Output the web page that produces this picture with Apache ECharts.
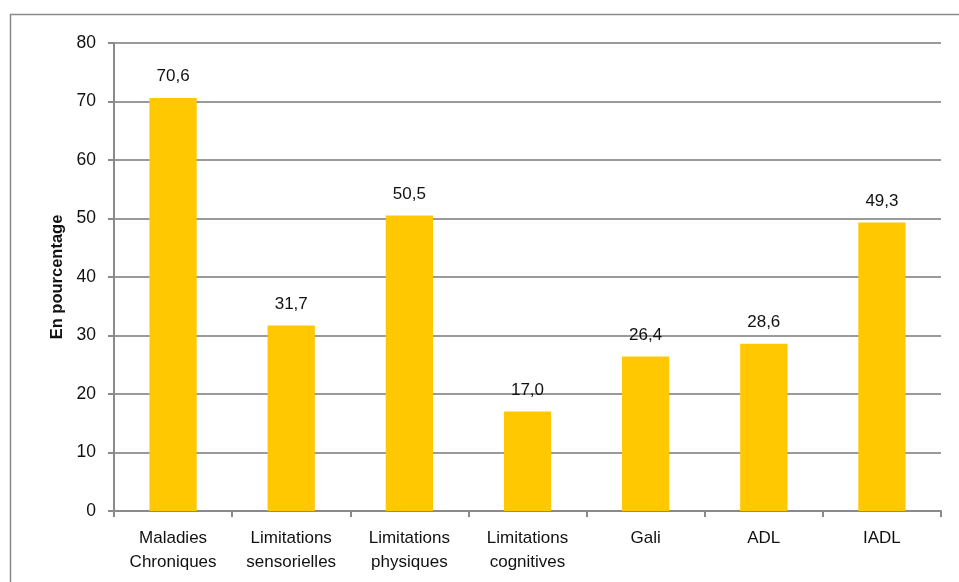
<!DOCTYPE html>
<html>
<head>
<meta charset="utf-8">
<script src="https://cdn.jsdelivr.net/npm/echarts@6/dist/echarts.min.js"></script>
<style>
  html, body { margin: 0; padding: 0; background: #fff; }
  #chart { width: 959px; height: 582px; }
</style>
</head>
<body>
<div id="chart"></div>
<script>
// Indicateurs de santé, en pourcentage
const categories = ['Maladies\nChroniques', 'Limitations\nsensorielles', 'Limitations\nphysiques', 'Limitations\ncognitives', 'Gali', 'ADL', 'IADL'];
const values = [70.6, 31.7, 50.5, 17.0, 26.4, 28.6, 49.3];
const yTicks = { min: 0, max: 80, interval: 10 };

const font = '"Liberation Sans", Arial, sans-serif';
const chart = echarts.init(document.getElementById('chart'), null, { renderer: 'canvas' });

chart.setOption({
  animation: false,
  backgroundColor: '#ffffff',
  graphic: [{
    type: 'rect',
    shape: { x: 10.5, y: 14.5, width: 960, height: 600 },
    style: { fill: 'none', stroke: '#8a8a8a', lineWidth: 1.5 },
    silent: true
  }],
  grid: { left: 114, right: 18, top: 43, bottom: 71 },
  xAxis: {
    type: 'category',
    data: categories,
    axisLine: { lineStyle: { color: '#8a8a8a', width: 2 } },
    axisTick: { show: true, length: 6, lineStyle: { color: '#8a8a8a', width: 2 } },
    axisLabel: { interval: 0, color: '#111', fontFamily: font, fontSize: 17, lineHeight: 24, margin: 15 }
  },
  yAxis: {
    type: 'value',
    min: yTicks.min, max: yTicks.max, interval: yTicks.interval,
    name: 'En pourcentage',
    nameLocation: 'middle',
    nameGap: 46,
    nameTextStyle: { color: '#111', fontFamily: font, fontSize: 16.5, fontWeight: 'bold' },
    axisLine: { show: true, lineStyle: { color: '#8a8a8a', width: 2 } },
    axisTick: { show: true, length: 6, inside: false, lineStyle: { color: '#8a8a8a', width: 2 } },
    axisLabel: { color: '#111', fontFamily: font, fontSize: 17.5, margin: 18 },
    splitLine: { lineStyle: { color: '#9a9a9a', width: 2 } }
  },
  series: [{
    type: 'bar',
    data: values,
    barWidth: '40%',
    itemStyle: { color: '#FFC800' },
    label: {
      show: true,
      position: 'top',
      distance: 13,
      color: '#111',
      fontFamily: font,
      fontSize: 17,
      formatter: p => p.value.toFixed(1).replace('.', ',')
    }
  }]
});
</script>
</body>
</html>
